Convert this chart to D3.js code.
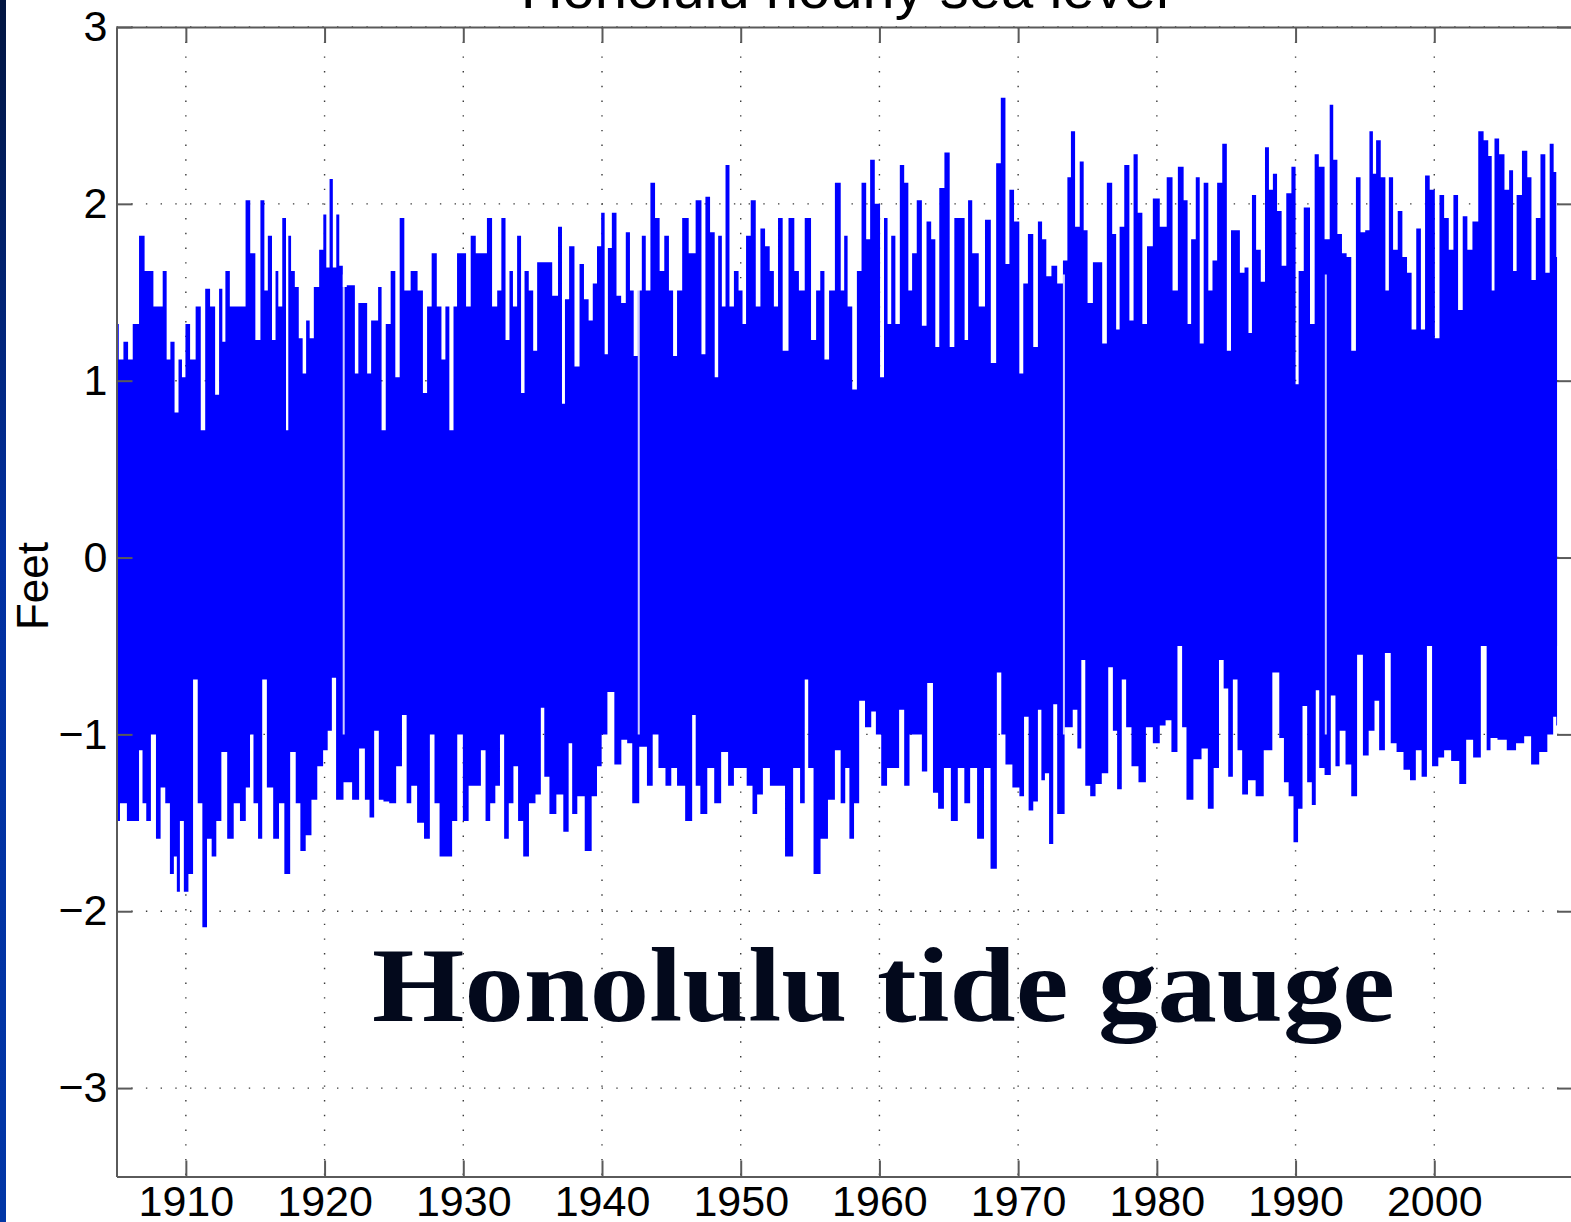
<!DOCTYPE html>
<html>
<head>
<meta charset="utf-8">
<script src="https://cdn.jsdelivr.net/npm/d3@7"></script>
<style>
  html, body { margin: 0; padding: 0; background: #fff; }
  svg { display: block; }
</style>
</head>
<body>
<svg id="chart" width="1571" height="1222"></svg>
<script>
'use strict';

var highs = [
  [1905.00,1.32],[1905.33,1.12],[1905.67,1.22],[1906.00,1.12],[1906.34,1.32],[1906.91,1.82],[1907.14,1.62],[1907.48,1.62],
  [1907.84,1.42],[1908.18,1.42],[1908.48,1.62],[1908.75,1.12],[1909.02,1.22],[1909.35,0.82],[1909.59,1.12],[1909.85,1.02],
  [1910.09,1.32],[1910.52,1.12],[1910.89,1.42],[1911.26,0.72],[1911.53,1.52],[1911.96,1.42],[1912.26,0.92],[1912.53,1.52],
  [1912.73,1.22],[1912.97,1.62],[1913.37,1.42],[1913.77,1.42],[1914.14,1.42],[1914.47,2.02],[1914.81,1.72],[1915.21,1.23],
  [1915.54,2.02],[1915.78,1.51],[1916.04,1.82],[1916.38,1.23],[1916.55,1.62],[1916.78,1.42],[1917.12,1.92],[1917.32,0.72],
  [1917.45,1.82],[1917.72,1.62],[1917.99,1.53],[1918.29,1.24],[1918.55,1.04],[1918.79,1.34],[1919.06,1.24],[1919.39,1.53],
  [1919.83,1.74],[1919.99,1.94],[1920.26,1.64],[1920.46,2.14],[1920.73,1.64],[1920.96,1.94],[1921.16,1.65],[1921.47,1.53],
  [1921.73,1.54],[1922.07,1.54],[1922.30,1.04],[1922.57,1.44],[1922.90,1.44],[1923.24,1.04],[1923.47,1.34],[1923.74,1.34],
  [1923.98,1.53],[1924.24,0.72],[1924.58,1.32],[1924.95,1.62],[1925.25,1.02],[1925.58,1.92],[1925.92,1.51],[1926.49,1.62],
  [1926.92,1.51],[1927.26,0.93],[1927.52,1.42],[1927.92,1.72],[1928.26,1.42],[1928.59,1.12],[1928.83,1.42],[1929.16,0.72],
  [1929.43,1.42],[1929.67,1.72],[1930.03,1.72],[1930.37,1.42],[1930.70,1.82],[1931.10,1.72],[1931.54,1.72],[1931.87,1.92],
  [1932.28,1.42],[1932.61,1.51],[1932.88,1.92],[1933.21,1.23],[1933.45,1.62],[1933.71,1.42],[1934.05,1.82],[1934.28,0.93],
  [1934.55,1.62],[1934.89,1.51],[1935.19,1.17],[1935.46,1.67],[1935.79,1.67],[1936.19,1.67],[1936.63,1.48],[1937.03,1.87],
  [1937.20,0.87],[1937.46,1.46],[1937.80,1.76],[1938.23,1.08],[1938.53,1.66],[1938.87,1.46],[1939.20,1.34],[1939.47,1.55],
  [1939.81,1.76],[1940.07,1.95],[1940.31,1.15],[1940.54,1.75],[1940.88,1.95],[1941.21,1.48],[1941.55,1.44],[1941.88,1.84],
  [1942.15,1.51],[1942.42,1.14],[1942.75,1.51],[1942.99,1.82],[1943.32,1.51],[1943.66,2.12],[1943.99,1.92],[1944.32,1.62],
  [1944.66,1.82],[1944.99,1.51],[1945.26,1.14],[1945.56,1.51],[1946.00,1.92],[1946.50,1.72],[1947.00,2.02],[1947.34,1.15],
  [1947.57,2.04],[1948.01,1.84],[1948.24,1.02],[1948.51,1.82],[1948.77,1.42],[1949.04,2.22],[1949.34,1.42],[1949.68,1.62],
  [1950.01,1.51],[1950.25,1.32],[1950.52,1.82],[1950.92,2.02],[1951.25,1.42],[1951.59,1.86],[1951.92,1.76],[1952.26,1.62],
  [1952.52,1.42],[1952.86,1.92],[1953.19,1.17],[1953.70,1.92],[1954.03,1.62],[1954.36,1.51],[1954.87,1.92],[1955.27,1.23],
  [1955.60,1.51],[1955.87,1.62],[1956.20,1.12],[1956.54,1.51],[1957.04,2.12],[1957.38,1.51],[1957.54,1.82],[1957.87,1.42],
  [1958.21,0.95],[1958.54,1.62],[1958.88,2.12],[1959.21,1.80],[1959.45,2.25],[1959.88,2.00],[1960.21,1.02],[1960.45,1.92],
  [1960.72,1.32],[1960.98,1.82],[1961.32,1.32],[1961.62,2.22],[1961.95,2.12],[1962.22,1.51],[1962.49,1.72],[1962.89,2.02],
  [1963.23,1.31],[1963.56,1.90],[1963.90,1.80],[1964.16,1.19],[1964.47,2.09],[1964.90,2.29],[1965.23,1.19],[1965.57,1.92],
  [1965.97,1.92],[1966.31,1.23],[1966.47,2.02],[1966.91,1.72],[1967.41,1.42],[1967.81,1.91],[1968.25,1.10],[1968.58,2.23],
  [1968.92,2.60],[1969.25,1.66],[1969.49,2.08],[1969.92,1.90],[1970.25,1.04],[1970.49,1.55],[1970.92,1.83],[1971.26,1.19],
  [1971.59,1.90],[1971.86,1.80],[1972.20,1.59],[1972.60,1.65],[1973.03,1.55],[1973.43,1.68],[1973.67,2.15],[1973.94,2.41],
  [1974.27,1.87],[1974.61,2.24],[1974.84,1.85],[1975.17,1.44],[1975.61,1.67],[1975.94,1.67],[1976.18,1.21],[1976.61,2.12],
  [1976.95,1.83],[1977.18,1.29],[1977.45,1.87],[1977.85,2.22],[1978.19,1.34],[1978.45,2.28],[1978.79,1.95],[1979.12,1.32],
  [1979.46,1.76],[1979.96,2.03],[1980.46,1.87],[1980.96,2.15],[1981.30,1.51],[1981.73,2.21],[1982.13,2.02],[1982.30,1.32],
  [1982.64,1.80],[1982.97,2.15],[1983.21,1.21],[1983.54,2.12],[1983.88,1.51],[1984.14,1.68],[1984.55,2.12],[1984.88,2.34],
  [1985.21,1.17],[1985.48,1.85],[1985.82,1.85],[1986.15,1.61],[1986.49,1.64],[1986.72,1.27],[1986.99,2.05],[1987.32,1.74],
  [1987.66,1.56],[1987.93,2.32],[1988.23,2.08],[1988.50,2.17],[1988.83,1.96],[1989.16,1.65],[1989.50,2.06],[1989.90,2.21],
  [1990.10,0.98],[1990.34,1.62],[1990.84,1.98],[1991.24,1.32],[1991.51,2.28],[1991.84,2.21],[1992.34,1.80],[1992.58,2.56],
  [1992.85,2.25],[1993.18,1.83],[1993.51,1.72],[1993.85,1.70],[1994.18,1.17],[1994.52,2.15],[1994.85,1.84],[1995.19,1.85],
  [1995.46,2.41],[1995.69,2.17],[1995.92,2.36],[1996.36,2.15],[1996.59,1.51],[1996.86,2.15],[1997.20,1.74],[1997.53,1.96],
  [1997.87,1.70],[1998.20,1.61],[1998.53,1.29],[1998.87,1.86],[1999.20,1.29],[1999.47,2.16],[1999.87,2.08],[2000.21,1.24],
  [2000.54,2.05],[2000.88,1.92],[2001.21,1.74],[2001.55,2.05],[2001.88,1.40],[2002.22,1.93],[2002.55,1.74],[2002.95,1.90],
  [2003.39,2.41],[2003.72,2.36],[2004.06,2.27],[2004.22,1.51],[2004.46,2.37],[2004.89,2.28],[2005.23,2.08],[2005.56,2.19],
  [2005.80,1.62],[2006.07,2.05],[2006.57,2.30],[2006.84,2.15],[2007.17,1.57],[2007.47,1.92],[2007.84,2.28],[2008.17,1.61],
  [2008.47,2.34],[2008.74,2.18],[2008.85,1.70]
];

var lows = [
  [1905.00,-1.49],[1905.50,-1.39],[1906.00,-1.49],[1906.51,-1.49],[1906.74,-1.09],[1907.01,-1.39],[1907.28,-1.49],[1907.68,-1.00],
  [1908.01,-1.59],[1908.35,-1.30],[1908.68,-1.39],[1909.02,-1.79],[1909.25,-1.69],[1909.45,-1.89],[1909.69,-1.49],[1910.02,-1.89],
  [1910.35,-1.79],[1910.69,-0.69],[1911.02,-1.39],[1911.36,-2.09],[1911.69,-1.59],[1912.03,-1.69],[1912.36,-1.49],[1912.76,-1.10],
  [1913.20,-1.59],[1913.70,-1.39],[1914.10,-1.49],[1914.54,-1.30],[1914.71,-1.00],[1915.04,-1.39],[1915.37,-1.59],[1915.64,-0.69],
  [1916.04,-1.30],[1916.55,-1.59],[1916.88,-1.39],[1917.32,-1.79],[1917.72,-1.10],[1918.12,-1.39],[1918.39,-1.66],[1918.89,-1.57],
  [1919.22,-1.37],[1919.73,-1.18],[1920.06,-1.09],[1920.39,-0.98],[1920.66,-0.68],[1921.00,-1.37],[1921.73,-1.27],[1922.24,-1.37],
  [1922.74,-1.08],[1923.07,-1.37],[1923.41,-1.47],[1923.74,-0.98],[1924.08,-1.37],[1924.41,-1.38],[1924.91,-1.39],[1925.41,-1.18],
  [1925.75,-0.89],[1926.08,-1.39],[1926.42,-1.29],[1926.92,-1.50],[1927.42,-1.59],[1927.76,-1.00],[1928.09,-1.39],[1928.49,-1.69],
  [1929.03,-1.69],[1929.36,-1.49],[1929.77,-1.00],[1930.17,-1.49],[1930.60,-1.29],[1931.10,-1.29],[1931.44,-1.09],[1931.77,-1.49],
  [1932.11,-1.39],[1932.51,-1.29],[1932.78,-1.00],[1933.11,-1.59],[1933.45,-1.39],[1933.78,-1.18],[1934.12,-1.49],[1934.52,-1.69],
  [1934.95,-1.39],[1935.46,-1.34],[1935.72,-0.85],[1935.96,-1.24],[1936.46,-1.45],[1936.96,-1.34],[1937.46,-1.55],[1937.73,-1.05],
  [1937.97,-1.45],[1938.47,-1.35],[1939.04,-1.66],[1939.47,-1.35],[1939.81,-1.18],[1940.14,-1.00],[1940.64,-0.76],[1941.14,-1.17],
  [1941.65,-1.03],[1941.98,-1.05],[1942.38,-1.39],[1942.99,-1.07],[1943.49,-1.29],[1943.82,-1.00],[1944.32,-1.19],[1944.83,-1.29],
  [1945.16,-1.19],[1945.66,-1.29],[1946.33,-1.49],[1946.67,-0.89],[1946.84,-1.29],[1947.34,-1.45],[1947.84,-1.19],[1948.34,-1.39],
  [1948.84,-1.10],[1949.34,-1.29],[1949.68,-1.19],[1950.18,-1.19],[1950.68,-1.29],[1951.02,-1.45],[1951.35,-1.34],[1951.85,-1.19],
  [1952.36,-1.29],[1952.86,-1.29],[1953.53,-1.69],[1954.03,-1.19],[1954.53,-1.39],[1954.70,-0.69],[1955.03,-1.19],[1955.47,-1.79],
  [1956.04,-1.59],[1956.54,-1.37],[1957.04,-1.09],[1957.37,-1.39],[1957.70,-1.19],[1957.97,-1.59],[1958.37,-1.39],[1958.71,-0.81],
  [1959.21,-0.96],[1959.61,-0.87],[1959.88,-1.00],[1960.38,-1.29],[1960.72,-1.19],[1961.22,-1.19],[1961.62,-0.86],[1961.95,-1.29],
  [1962.39,-1.00],[1962.89,-1.00],[1963.23,-1.21],[1963.66,-0.71],[1964.06,-1.33],[1964.40,-1.42],[1964.90,-1.19],[1965.40,-1.49],
  [1965.90,-1.19],[1966.34,-1.39],[1966.74,-1.19],[1967.34,-1.59],[1967.74,-1.19],[1968.28,-1.76],[1968.65,-0.65],[1968.92,-1.00],
  [1969.25,-1.17],[1969.92,-1.30],[1970.26,-1.35],[1970.59,-0.90],[1970.92,-1.43],[1971.26,-1.38],[1971.59,-0.86],[1971.76,-1.26],
  [1972.10,-1.22],[1972.36,-1.62],[1972.70,-0.83],[1972.93,-1.45],[1973.77,-0.96],[1974.10,-0.86],[1974.44,-1.08],[1974.67,-0.58],
  [1975.01,-1.29],[1975.38,-1.35],[1975.78,-1.28],[1976.28,-1.22],[1976.71,-0.62],[1976.95,-0.98],[1977.32,-1.31],[1977.62,-0.69],
  [1977.95,-0.96],[1978.39,-1.18],[1978.96,-1.27],[1979.46,-0.96],[1979.96,-1.05],[1980.46,-0.95],[1980.80,-0.92],[1981.30,-1.10],
  [1981.67,-0.37],[1981.97,-0.96],[1982.30,-1.37],[1982.97,-1.14],[1983.47,-1.08],[1983.88,-1.42],[1984.31,-1.19],[1984.65,-0.58],
  [1984.98,-0.74],[1985.31,-1.24],[1985.65,-0.69],[1985.98,-1.09],[1986.32,-1.34],[1986.82,-1.26],[1987.42,-1.35],[1987.99,-1.09],
  [1988.66,-0.65],[1988.99,-1.02],[1989.33,-1.27],[1989.67,-1.35],[1990.03,-1.61],[1990.33,-1.42],[1990.67,-0.84],[1991.00,-1.27],
  [1991.34,-1.40],[1991.57,-0.75],[1991.84,-1.19],[1992.34,-1.23],[1992.74,-0.78],[1993.01,-1.18],[1993.35,-0.98],[1993.85,-1.17],
  [1994.18,-1.35],[1994.69,-0.55],[1995.02,-1.12],[1995.52,-0.98],[1995.86,-0.81],[1996.19,-1.09],[1996.69,-0.54],[1997.03,-1.05],
  [1997.53,-1.10],[1998.03,-1.20],[1998.47,-1.26],[1998.87,-1.09],[1999.30,-1.24],[1999.64,-0.48],[2000.04,-1.18],[2000.54,-1.13],
  [2000.88,-1.09],[2001.55,-1.15],[2002.05,-1.28],[2002.55,-1.03],[2003.05,-1.13],[2003.66,-0.29],[2003.89,-1.09],[2004.22,-1.02],
  [2004.89,-1.03],[2005.56,-1.09],[2006.23,-1.05],[2006.73,-1.01],[2007.23,-1.17],[2007.90,-1.10],[2008.40,-1.00],[2008.74,-0.90],
  [2008.85,-0.95]
];

// short breaks in the record, seen as pale lines through the trace
var gapYears = [1921.38, 1942.65, 1973.30, 1992.18];

var yearTicks = [1910, 1920, 1930, 1940, 1950, 1960, 1970, 1980, 1990, 2000];
var feetTicks = [-3, -2, -1, 0, 1, 2, 3];

var svg = d3.select('#chart'),
    plotLeft = 116.5,
    plotRight = 1573,
    plotTop = 27,
    plotBottom = 1176.5,
    x = d3.scaleLinear().domain([1905, 2010]).range([plotLeft, plotRight]),
    y = d3.scaleLinear().domain([-3.5, 3]).range([plotBottom, plotTop]),
    axisColor = '#5a5a5a',
    labelFont = '"Liberation Sans", Arial, Helvetica, sans-serif';

// slide edge on the left
var grad = svg.append('defs').append('linearGradient')
  .attr('id', 'edge').attr('x1', 0).attr('y1', 0).attr('x2', 0).attr('y2', 1);
grad.append('stop').attr('offset', '0').attr('stop-color', '#021540');
grad.append('stop').attr('offset', '0.45').attr('stop-color', '#0230a0');
grad.append('stop').attr('offset', '1').attr('stop-color', '#0236a6');
svg.append('rect').attr('x', 0).attr('y', 0).attr('width', 6).attr('height', 1222).attr('fill', 'url(#edge)');

// title, cut off by the top of the slide
svg.append('text')
  .attr('x', (plotLeft + plotRight) / 2).attr('y', 8)
  .attr('text-anchor', 'middle')
  .style('font-family', labelFont).style('font-size', '58px')
  .text('Honolulu hourly sea level');

// dotted grid
var grid = svg.append('g').attr('stroke', '#3a3a3a').attr('stroke-width', 1.4).attr('stroke-dasharray', '1.4 13.3');
grid.selectAll('line.v').data(yearTicks).enter().append('line')
  .attr('class', 'v')
  .attr('x1', function (d) { return x(d); }).attr('x2', function (d) { return x(d); })
  .attr('y1', plotTop).attr('y2', plotBottom);
grid.selectAll('line.h').data(feetTicks).enter().append('line')
  .attr('class', 'h')
  .attr('y1', function (d) { return y(d); }).attr('y2', function (d) { return y(d); })
  .attr('x1', plotLeft).attr('x2', plotRight);

// the trace: top edge filled down past zero, bottom edge filled up past zero, so they overlap
function band(overlap) {
  return d3.area().curve(d3.curveStep)
    .x(function (d) { return x(d[0]); })
    .y0(y(overlap))
    .y1(function (d) { return y(d[1]); });
}

svg.append('path').datum(highs).attr('d', band(-0.5)).attr('fill', '#0000ff');
svg.append('path').datum(lows).attr('d', band(0.5)).attr('fill', '#0000ff');

svg.selectAll('line.gap').data(gapYears).enter().append('line')
  .attr('class', 'gap')
  .attr('x1', function (d) { return x(d); }).attr('x2', function (d) { return x(d); })
  .attr('y1', y(1.6)).attr('y2', y(-1.0))
  .attr('stroke', '#ffffff').attr('stroke-opacity', 0.8).attr('stroke-width', 2);

// axes, ticks pointing inward on all four sides
function styleAxis(g) {
  g.selectAll('.domain').attr('stroke', axisColor).attr('stroke-width', 2);
  g.selectAll('.tick line').attr('stroke', axisColor).attr('stroke-width', 2);
  g.selectAll('.tick text').attr('fill', '#000').style('font-family', labelFont).style('font-size', '43px');
}

svg.append('g').attr('transform', 'translate(0,' + plotBottom + ')')
  .call(d3.axisBottom(x).tickValues(yearTicks).tickSize(-16).tickSizeOuter(0).tickPadding(9).tickFormat(d3.format('d')))
  .call(styleAxis);
svg.append('g').attr('transform', 'translate(0,' + plotTop + ')')
  .call(d3.axisTop(x).tickValues(yearTicks).tickSize(-16).tickSizeOuter(0).tickFormat(''))
  .call(styleAxis);
svg.append('g').attr('transform', 'translate(' + plotLeft + ',0)')
  .call(d3.axisLeft(y).tickValues(feetTicks).tickSize(-16).tickSizeOuter(0).tickPadding(9)
    .tickFormat(function (d) { return d < 0 ? '\u2212' + (-d) : String(d); }))
  .call(styleAxis);
svg.append('g').attr('transform', 'translate(' + plotRight + ',0)')
  .call(d3.axisRight(y).tickValues(feetTicks).tickSize(-16).tickSizeOuter(0).tickFormat(''))
  .call(styleAxis);

// y label
svg.append('text')
  .attr('transform', 'translate(48,586) rotate(-90)')
  .attr('text-anchor', 'middle')
  .style('font-family', labelFont).style('font-size', '44px')
  .text('Feet');

// slide caption
svg.append('text')
  .attr('x', 372).attr('y', 1021)
  .attr('textLength', 1023).attr('lengthAdjust', 'spacingAndGlyphs')
  .style('font-family', '"Liberation Serif", "Times New Roman", serif')
  .style('font-weight', 'bold').style('font-size', '106px')
  .attr('fill', '#03091c')
  .text('Honolulu tide gauge');
</script>
</body>
</html>
